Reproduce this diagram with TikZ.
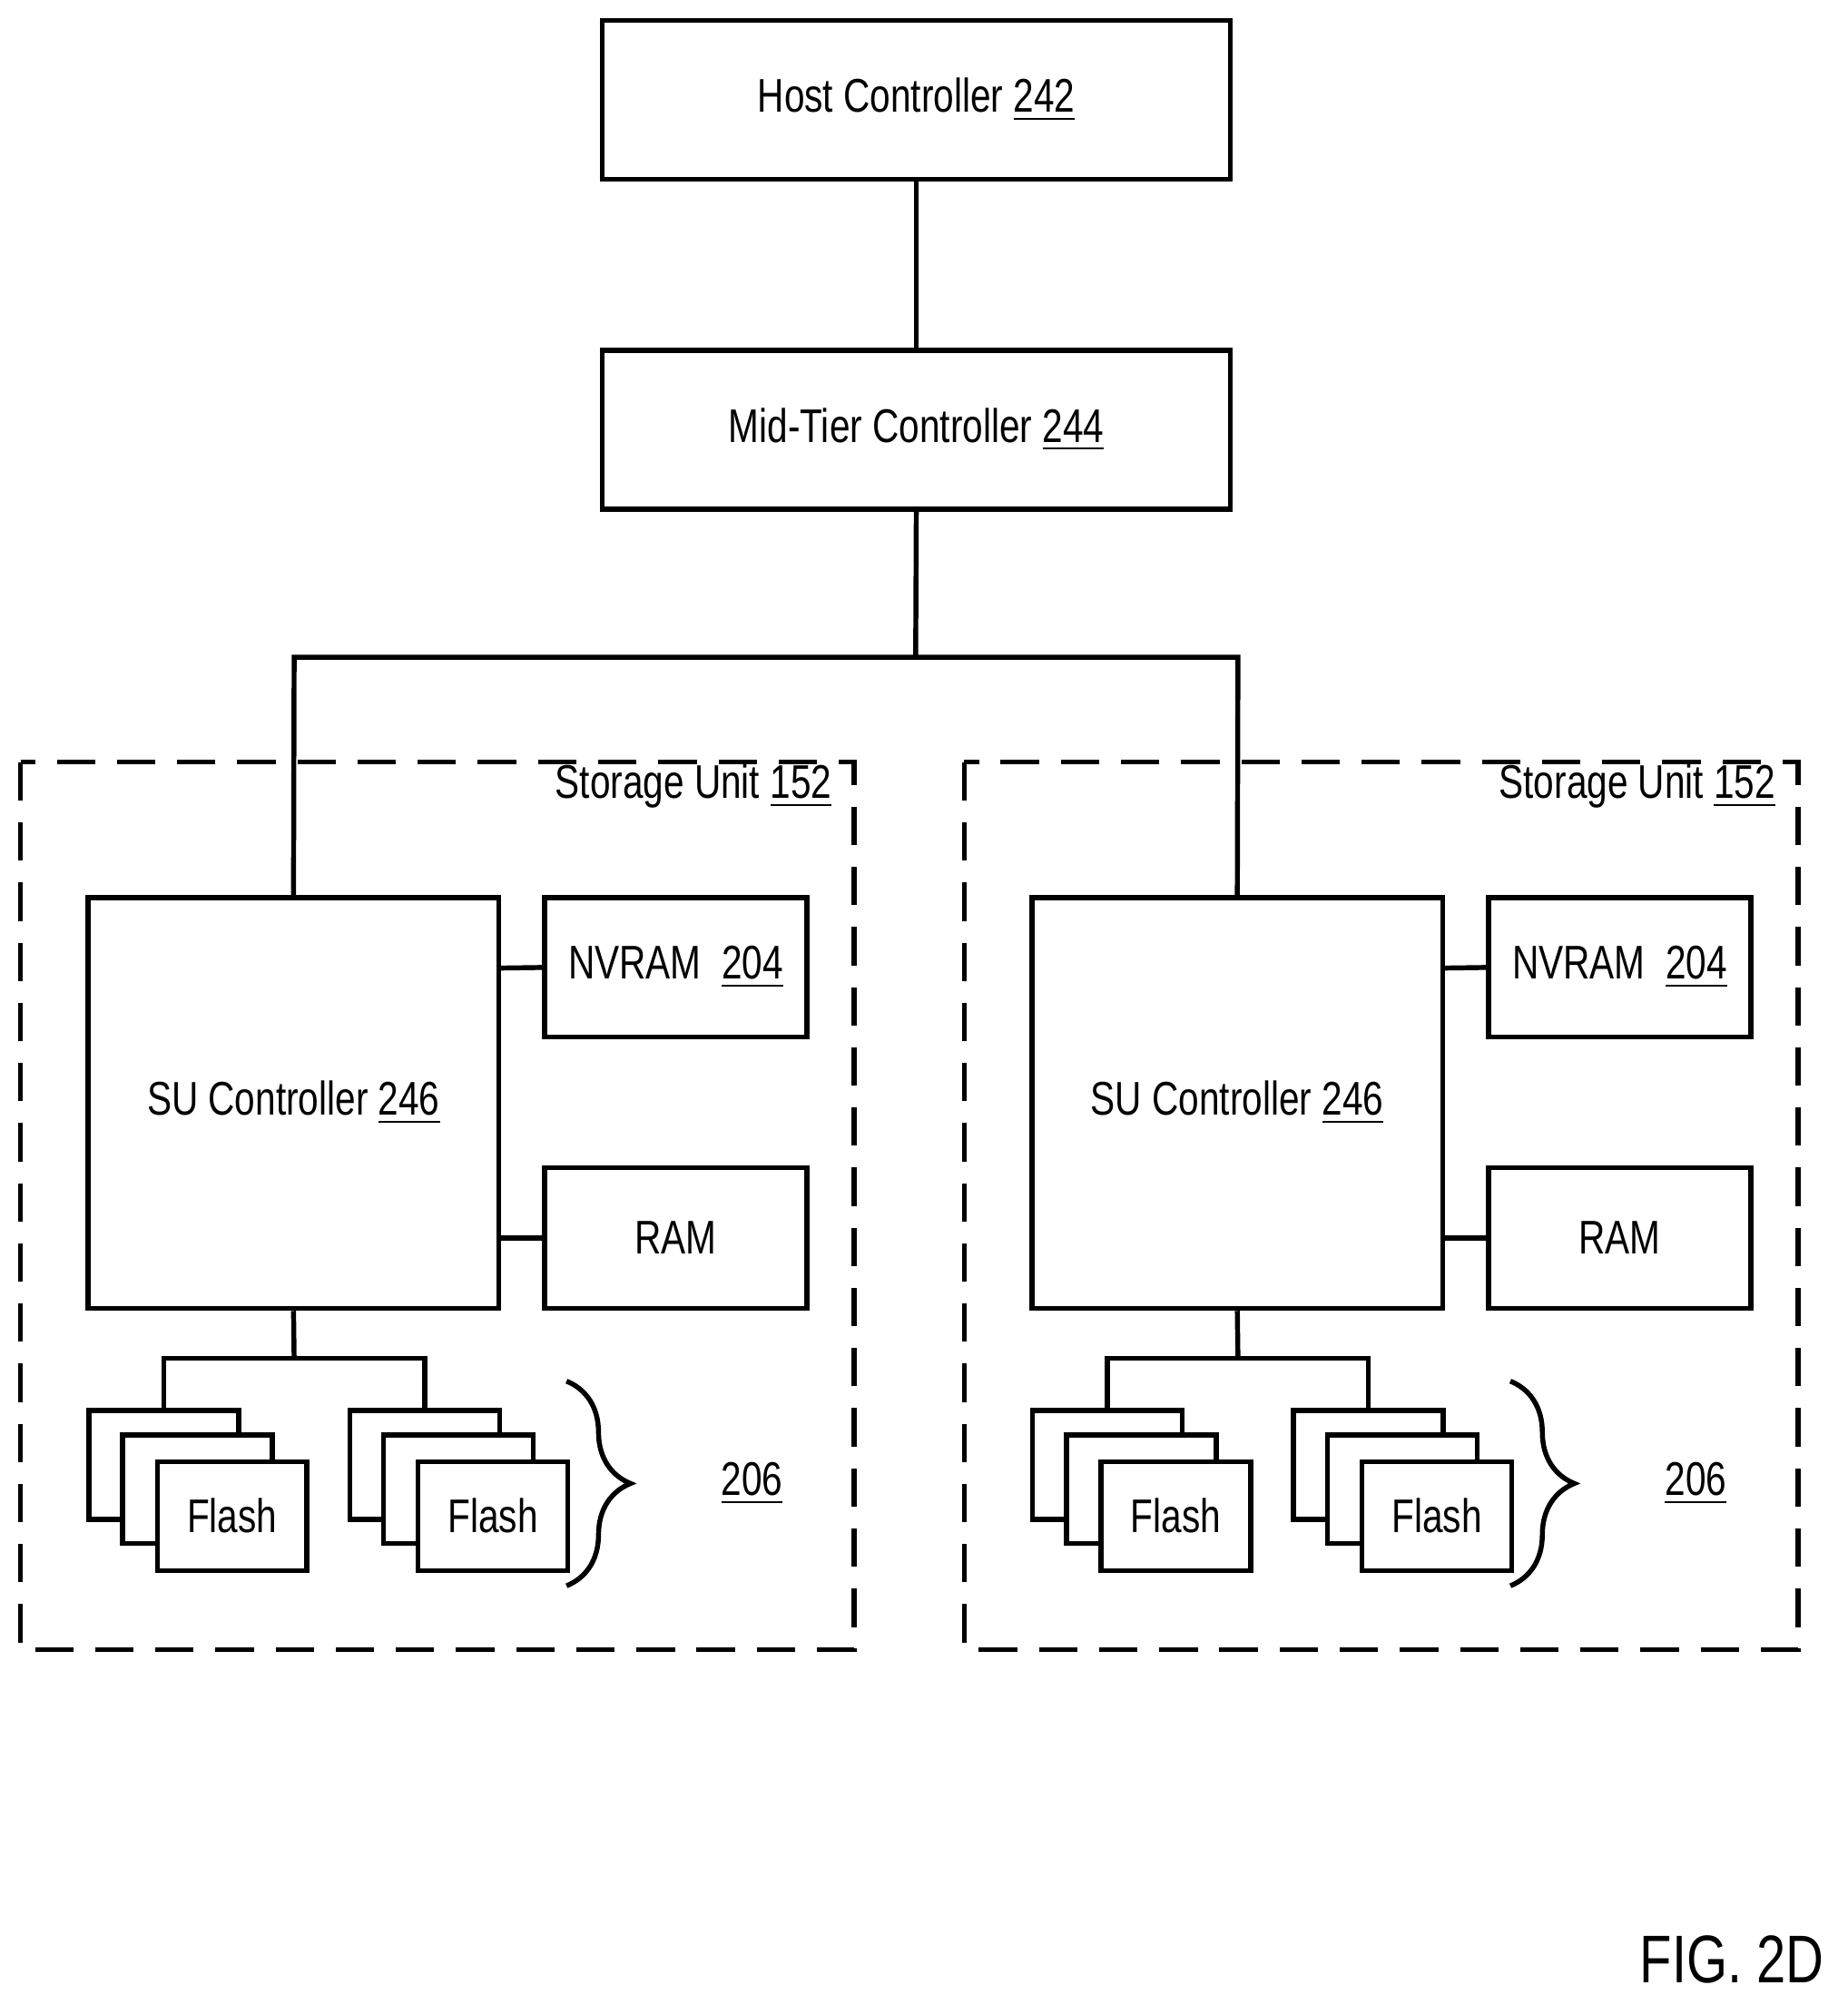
\documentclass[tikz,border=0pt]{standalone}
\usepackage{fontspec}
\setmainfont{Liberation Sans}[FakeStretch=0.78]
\usetikzlibrary{decorations.pathreplacing}
\begin{document}
\begin{tikzpicture}[x=0.01cm,y=-0.01cm,line width=1.1pt,
  box/.style={draw,rectangle,inner sep=0pt,font=\fontsize{10.5}{12}\selectfont},
  flash/.style={draw,fill=white,minimum width=1.17cm,minimum height=0.85cm,inner sep=0pt,font=\fontsize{10.5}{12}\selectfont},
  su/.style={draw,dash pattern=on 0.3cm off 0.17cm},
  lbl/.style={font=\fontsize{10.5}{12}\selectfont}]
\useasboundingbox (0,0) rectangle (1445,1560);
\node[box,minimum width=4.91cm,minimum height=1.24cm] (host) at (716.5,78) {Host Controller \underline{242}};
\node[box,minimum width=4.91cm,minimum height=1.24cm] (mid) at (716.5,336) {Mid-Tier Controller \underline{244}};
\draw (host) -- (mid);
\coordinate (j) at (716,514);
\draw (mid.south) -- (j);
\foreach \s/\o in {L/0,R/738}{
\begin{scope}[xshift=\o*0.01cm]
\draw[su] (16,596) rectangle (668,1290);
\node[lbl,anchor=east] (sul\s) at (664,615) {Storage Unit \underline{152}};
\node[box,minimum width=3.21cm,minimum height=3.21cm] (suc\s) at (229.5,862.5) {SU Controller \underline{246}};
\node[box,minimum width=2.05cm,minimum height=1.09cm] (nv\s) at (528.5,756.5) {NVRAM\ \ \underline{204}};
\node[box,minimum width=2.05cm,minimum height=1.10cm] (ram\s) at (528.5,968) {RAM};
\draw (390,757) -- (nv\s.west);
\draw (390,968) -- (ram\s.west);
\coordinate (b\s) at (230,1062);
\draw (suc\s.south) -- (b\s);
\node[flash] (fa\s) at (128,1145.5) {};
\node[flash] (fb\s) at (154.5,1164.5) {};
\node[flash] (fc\s) at (181.5,1185.5) {Flash};
\node[flash] (fd\s) at (332,1145.5) {};
\node[flash] (fe\s) at (358.5,1164.5) {};
\node[flash] (ff\s) at (385.5,1185.5) {Flash};
\draw (fa\s.north) -- (128,1062) -- (332,1062) -- (fd\s.north);
\coordinate (bt\s) at (443,1080);
\coordinate (bb\s) at (443,1240);
\draw[decorate,decoration={brace,amplitude=0.5cm}] (bt\s) -- (bb\s);
\node[lbl] (n\s) at (588,1160) {\underline{206}};
\end{scope}}
\draw (sucL.north) -- (230,514) -- (968,514) -- (sucR.north);
\node[font=\fontsize{15}{18}\selectfont,anchor=east] (fig) at (1440,1532) {FIG. 2D};
\end{tikzpicture}
\end{document}
